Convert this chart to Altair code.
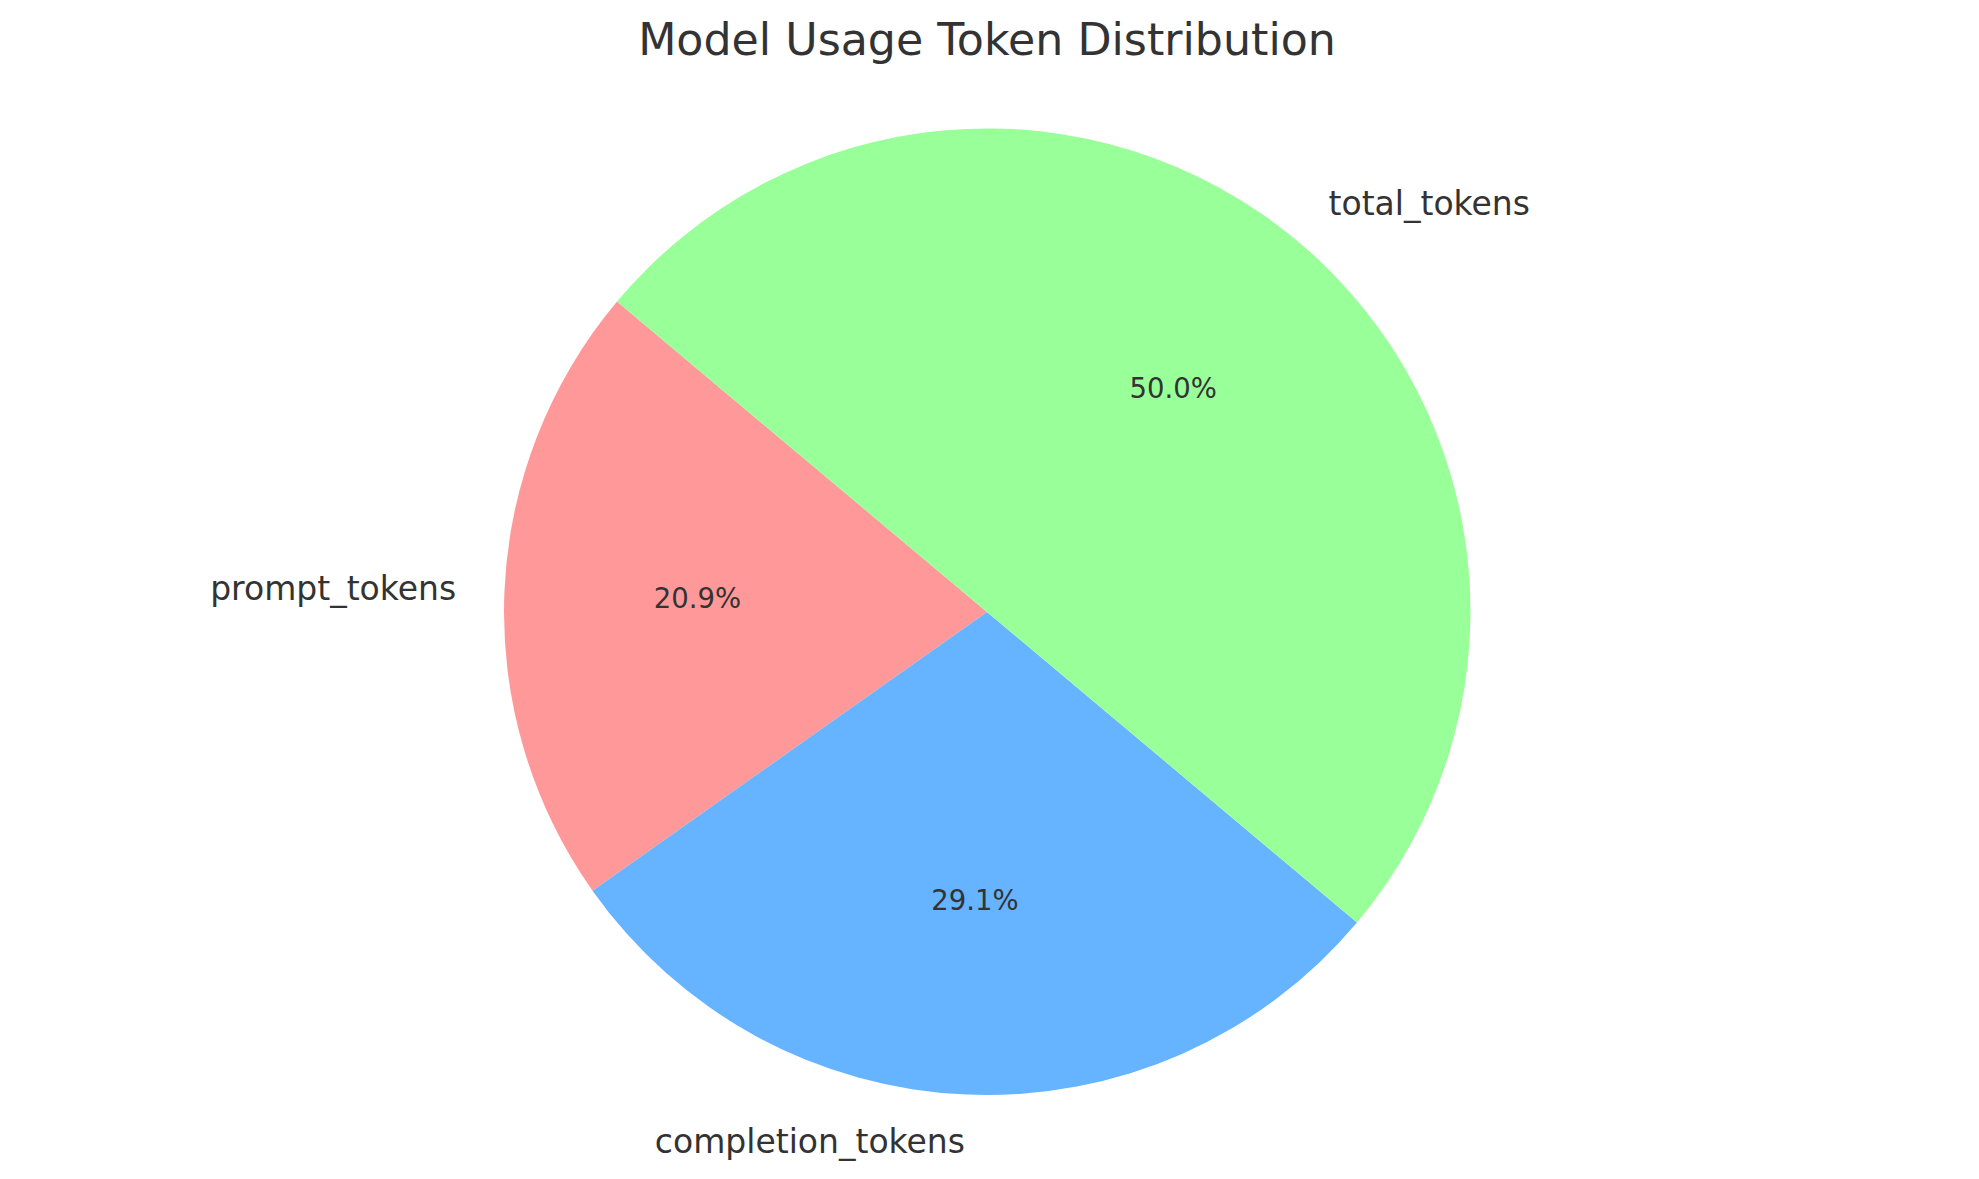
import math
import altair as alt
import pandas as pd

categories = ["prompt_tokens", "completion_tokens", "total_tokens"]
values = [20.9, 29.1, 50.0]
colors = ["#ff9999", "#66b3ff", "#99ff99"]
start_angle_deg = 140  # matplotlib-style start angle (CCW from +x)

df = pd.DataFrame({"category": categories, "value": values})

# Vega angles: 0 at north, clockwise. Matplotlib goes counter-clockwise, so
# slices are traversed in reverse order from the same start boundary.
theta0 = math.radians((90 - start_angle_deg) % 360)
total = sum(values)
theta_scale = alt.Scale(domain=[0, total], range=[theta0, theta0 + 2 * math.pi])

FONT = "DejaVu Sans"
TXT = "#333333"
R = 483

base = (
    alt.Chart(df)
    .transform_window(idx="row_number()")
    .transform_joinaggregate(tot="sum(value)")
    .transform_window(
        cum="sum(value)",
        sort=[alt.SortField("idx", order="descending")],
        frame=[None, 0],
    )
    .transform_calculate(
        start="datum.cum - datum.value",
        mid="datum.cum - datum.value / 2",
        pct="datum.value / datum.tot",
        ang=f"{theta0} + 2 * PI * (datum.cum - datum.value / 2) / datum.tot",
    )
    .transform_calculate(side="sin(datum.ang) >= 0 ? 'right' : 'left'")
)

arc = base.mark_arc(outerRadius=R).encode(
    theta=alt.Theta("start:Q", scale=theta_scale),
    theta2="cum:Q",
    color=alt.Color("category:N", scale=alt.Scale(domain=categories, range=colors), legend=None),
)

lab_right = (
    base.transform_filter("datum.side == 'right'")
    .mark_text(radius=R * 1.1, fontSize=33, font=FONT, color=TXT, align="left", baseline="middle")
    .encode(theta=alt.Theta("mid:Q", scale=theta_scale), text="category:N")
)
lab_left = (
    base.transform_filter("datum.side == 'left'")
    .mark_text(radius=R * 1.1, fontSize=33, font=FONT, color=TXT, align="right", baseline="middle")
    .encode(theta=alt.Theta("mid:Q", scale=theta_scale), text="category:N")
)
pct = base.mark_text(
    radius=R * 0.6, fontSize=27.5, font=FONT, color=TXT, align="center", baseline="middle"
).encode(
    theta=alt.Theta("mid:Q", scale=theta_scale),
    text=alt.Text("pct:Q", format=".1%"),
)

chart = (
    alt.layer(arc, lab_right, lab_left, pct)
    .properties(
        width=1948,
        height=1068,
        padding={"top": 11, "left": 5, "right": 5, "bottom": 5},
        title=alt.TitleParams(
            "Model Usage Token Distribution",
            fontSize=44.3,
            font=FONT,
            color=TXT,
            fontWeight="normal",
            anchor="middle",
            offset=14,
        ),
    )
    .configure_view(stroke=None)
)

chart.save("out.html", embed_options={"renderer": "svg", "actions": False})
